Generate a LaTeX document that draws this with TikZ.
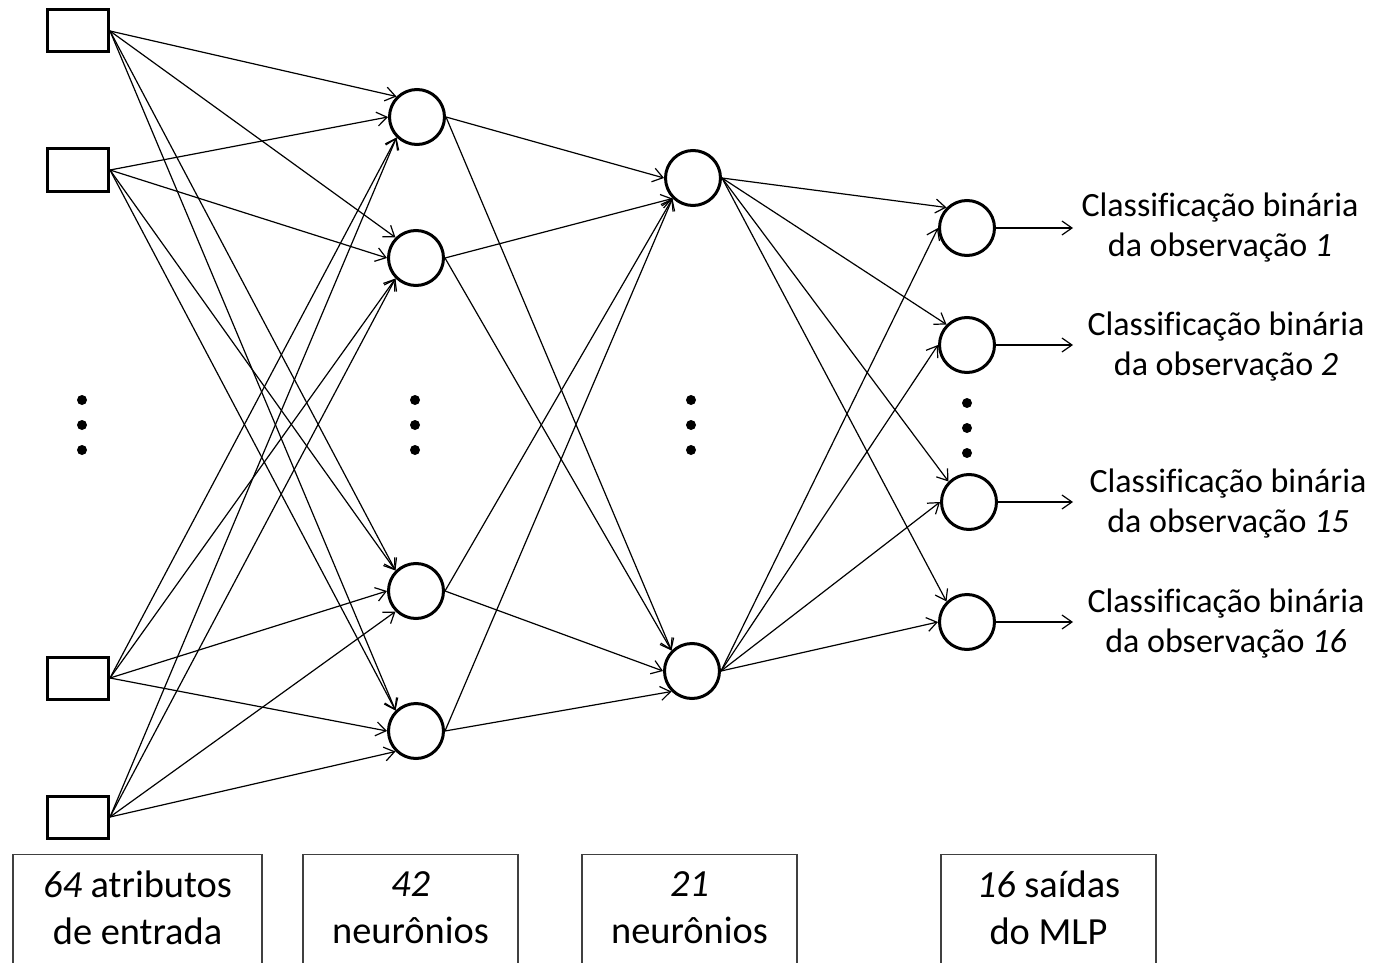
\documentclass[tikz,border=0pt]{standalone}
\usepackage{fontspec}
\setmainfont{Carlito}[Ligatures=NoCommon]
\usetikzlibrary{arrows.meta}
\begin{document}
\begin{tikzpicture}[x=0.5pt,y=-0.5pt,
  inbox/.style={draw=black,line width=1.5pt,rectangle,minimum width=30.5pt,minimum height=21pt,inner sep=0pt},
  neuron/.style={draw=black,line width=1.5pt,circle,minimum size=27.5pt,inner sep=0pt},
  dotn/.style={fill=black,circle,minimum size=5pt,inner sep=0pt},
  conn/.style={line width=0.6pt,-{Straight Barb[length=5pt,width=7pt,line width=0.6pt]}},
  capbox/.style={draw=black!75,line width=0.6pt,rectangle,anchor=north,minimum height=80pt,inner sep=0pt},
  captext/.style={align=center,font=\fontsize{19.2}{23.5}\selectfont,inner sep=0pt},
  outtext/.style={align=center,font=\fontsize{17}{20}\selectfont,inner sep=0pt}
]
\useasboundingbox (0,0) rectangle (1376,963);
\clip (0,0) rectangle (1376,963);
% input squares
\node[inbox] (i1) at (78,31) {};
\node[inbox] (i2) at (78,170) {};
\node[inbox] (i3) at (78,678) {};
\node[inbox] (i4) at (78,817) {};
% hidden layer 1
\node[neuron] (h1) at (417,117) {};
\node[neuron] (h2) at (416,258) {};
\node[neuron] (h3) at (416,591) {};
\node[neuron] (h4) at (416,731) {};
% hidden layer 2
\node[neuron] (g1) at (693,178) {};
\node[neuron] (g2) at (692,671) {};
% outputs
\node[neuron] (o1) at (967,228) {};
\node[neuron] (o2) at (967,345) {};
\node[neuron] (o3) at (969,502) {};
\node[neuron] (o4) at (967,622) {};
% dots
\foreach \x/\y/\n in {82/400/a,82/425/b,82/450/c,415/400/d,415/425/e,415/450/f,691/400/g,691/425/h,691/450/i,967/403/j,967/428/k,967/453/l}
  \node[dotn] (dot\n) at (\x,\y) {};
% input -> hidden 1
\draw[conn] (i1.east) -- (h1.north west);
\draw[conn] (i2.east) -- (h1.west);
\draw[conn] (i3.east) -- (h1.south west);
\draw[conn] (i4.east) -- (h1.south west);
\draw[conn] (i1.east) -- (h2.north west);
\draw[conn] (i2.east) -- (h2.west);
\draw[conn] (i3.east) -- (h2.south west);
\draw[conn] (i4.east) -- (h2.south west);
\draw[conn] (i1.east) -- (h3.north west);
\draw[conn] (i2.east) -- (h3.north west);
\draw[conn] (i3.east) -- (h3.west);
\draw[conn] (i4.east) -- (h3.south west);
\draw[conn] (i1.east) -- (h4.north west);
\draw[conn] (i2.east) -- (h4.north west);
\draw[conn] (i3.east) -- (h4.west);
\draw[conn] (i4.east) -- (h4.south west);
% hidden 1 -> hidden 2
\draw[conn] (h1.east) -- (g1.west);
\draw[conn] (h2.east) -- (g1.south west);
\draw[conn] (h3.east) -- (g1.south west);
\draw[conn] (h4.east) -- (g1.south west);
\draw[conn] (h1.east) -- (g2.north west);
\draw[conn] (h2.east) -- (g2.north west);
\draw[conn] (h3.east) -- (g2.west);
\draw[conn] (h4.east) -- (g2.south west);
% hidden 2 -> outputs
\draw[conn] (g1.east) -- (o1.north west);
\draw[conn] (g1.east) -- (o2.north west);
\draw[conn] (g1.east) -- (o3.north west);
\draw[conn] (g1.east) -- (o4.north west);
\draw[conn] (g2.east) -- (o1.west);
\draw[conn] (g2.east) -- (o2.west);
\draw[conn] (g2.east) -- (o3.west);
\draw[conn] (g2.east) -- (o4.west);
% output arrows
\coordinate (e1) at (1073,228);
\coordinate (e2) at (1073,345);
\coordinate (e3) at (1073,502);
\coordinate (e4) at (1073,622);
\draw[conn] (o1.east) -- (e1);
\draw[conn] (o2.east) -- (e2);
\draw[conn] (o3.east) -- (e3);
\draw[conn] (o4.east) -- (e4);
% output labels
\node[outtext] (l1) at (1220,228) {Classificação binária\\da observação \textit{1}};
\node[outtext] (l2) at (1226,347) {Classificação binária\\da observação \textit{2}};
\node[outtext] (l3) at (1228,504) {Classificação binária\\da observação \textit{15}};
\node[outtext] (l4) at (1226,624) {Classificação binária\\da observação \textit{16}};
% caption boxes
\node[capbox,minimum width=124.5pt] (b1) at (137.5,854) {};
\node[capbox,minimum width=107.5pt] (b2) at (410.5,854) {};
\node[capbox,minimum width=107.5pt] (b3) at (689.5,854) {};
\node[capbox,minimum width=107.5pt] (b4) at (1048.5,854) {};
\node[captext] (t1) at (137.5,908) {\textit{64} atributos\\de entrada};
\node[captext] (t2) at (410.5,908) {\textit{42}\\neurônios};
\node[captext] (t3) at (689.5,908) {\textit{21}\\neurônios};
\node[captext] (t4) at (1048.5,908) {\textit{16} saídas\\do MLP};
\end{tikzpicture}
\end{document}
